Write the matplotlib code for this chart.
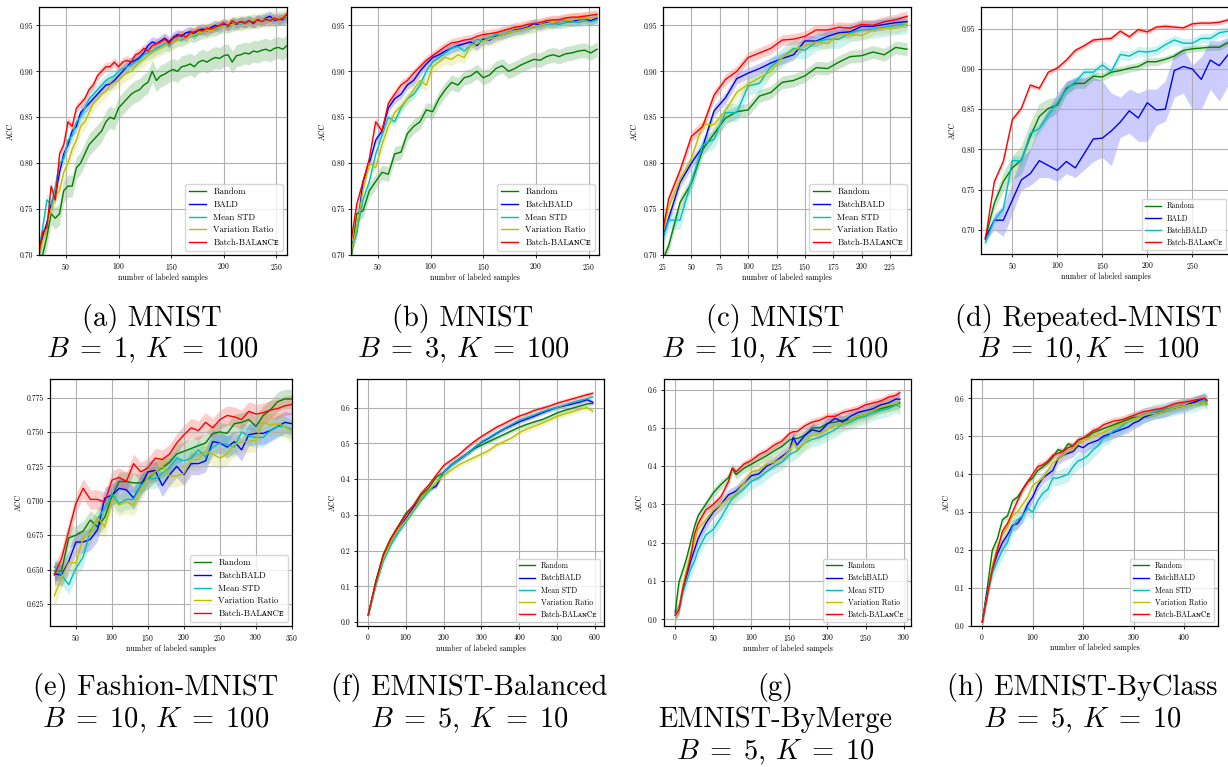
import numpy as np
import matplotlib
matplotlib.use('Agg')
import matplotlib.pyplot as plt
from matplotlib.ticker import FormatStrFormatter

plt.rcParams['font.family'] = ['cmr10', 'DejaVu Serif', 'DejaVu Sans']
plt.rcParams['mathtext.fontset'] = 'cm'
plt.rcParams['axes.formatter.use_mathtext'] = True
plt.rcParams['axes.unicode_minus'] = False

BALANCE = 'Batch-BAL\u1d00\u0274C\u1d07'

##################   Data  #########################

# (a) MNIST B=1
a_x = np.arange(24, 261, 4)
a_random = [0.690, 0.700, 0.720, 0.745, 0.740, 0.745, 0.770, 0.775, 0.775, 0.795,
            0.800, 0.810, 0.820, 0.825, 0.830, 0.835, 0.845, 0.850, 0.848, 0.860,
            0.865, 0.870, 0.875, 0.878, 0.880, 0.885, 0.888, 0.900, 0.890, 0.895,
            0.897, 0.900, 0.902, 0.900, 0.905, 0.906, 0.908, 0.905, 0.910, 0.912,
            0.910, 0.913, 0.915, 0.914, 0.917, 0.918, 0.910, 0.917, 0.918, 0.920,
            0.919, 0.922, 0.921, 0.923, 0.924, 0.922, 0.925, 0.926, 0.924, 0.928]
a_bald = [0.700, 0.720, 0.735, 0.755, 0.765, 0.790, 0.810, 0.820, 0.835, 0.840,
          0.855, 0.860, 0.865, 0.870, 0.875, 0.880, 0.885, 0.886, 0.890, 0.895,
          0.900, 0.905, 0.910, 0.912, 0.915, 0.920, 0.928, 0.932, 0.930, 0.933,
          0.936, 0.932, 0.937, 0.940, 0.938, 0.942, 0.943, 0.941, 0.945, 0.946,
          0.944, 0.948, 0.950, 0.948, 0.951, 0.950, 0.952, 0.951, 0.954, 0.953,
          0.955, 0.952, 0.956, 0.955, 0.958, 0.960, 0.955, 0.957, 0.956, 0.960]
a_meanstd = [0.700, 0.730, 0.760, 0.755, 0.775, 0.800, 0.805, 0.825, 0.830, 0.845,
             0.850, 0.860, 0.870, 0.875, 0.880, 0.885, 0.890, 0.893, 0.895, 0.900,
             0.903, 0.905, 0.907, 0.910, 0.913, 0.918, 0.920, 0.922, 0.925, 0.927,
             0.930, 0.928, 0.932, 0.935, 0.934, 0.937, 0.940, 0.938, 0.941, 0.943,
             0.944, 0.946, 0.945, 0.948, 0.950, 0.948, 0.951, 0.953, 0.951, 0.954,
             0.953, 0.955, 0.954, 0.956, 0.955, 0.957, 0.956, 0.958, 0.957, 0.959]
a_varratio = [0.700, 0.715, 0.730, 0.750, 0.765, 0.770, 0.790, 0.800, 0.815, 0.825,
              0.840, 0.845, 0.855, 0.865, 0.870, 0.875, 0.878, 0.885, 0.888, 0.890,
              0.895, 0.898, 0.900, 0.905, 0.910, 0.913, 0.917, 0.920, 0.923, 0.925,
              0.927, 0.930, 0.932, 0.934, 0.936, 0.937, 0.939, 0.940, 0.942, 0.943,
              0.945, 0.944, 0.947, 0.948, 0.949, 0.950, 0.951, 0.952, 0.953, 0.952,
              0.954, 0.955, 0.954, 0.956, 0.957, 0.956, 0.958, 0.957, 0.959, 0.960]
a_balance = [0.700, 0.725, 0.730, 0.775, 0.760, 0.810, 0.820, 0.845, 0.840, 0.860,
             0.865, 0.870, 0.880, 0.885, 0.895, 0.900, 0.905, 0.905, 0.910, 0.905,
             0.910, 0.912, 0.910, 0.918, 0.920, 0.925, 0.922, 0.928, 0.930, 0.932,
             0.935, 0.930, 0.936, 0.938, 0.940, 0.937, 0.942, 0.943, 0.945, 0.944,
             0.947, 0.946, 0.948, 0.950, 0.953, 0.949, 0.955, 0.952, 0.954, 0.952,
             0.955, 0.953, 0.956, 0.954, 0.957, 0.955, 0.958, 0.956, 0.958, 0.962]
a_spread = [0.012, 0.006, 0.007, 0.008, 0.005]

# (b) MNIST B=3
b_x = np.arange(24, 259, 6)
b_random = [0.690, 0.745, 0.748, 0.770, 0.780, 0.790, 0.788, 0.810, 0.812, 0.832,
            0.840, 0.845, 0.858, 0.856, 0.870, 0.880, 0.888, 0.885, 0.893, 0.895,
            0.900, 0.893, 0.896, 0.903, 0.906, 0.900, 0.903, 0.907, 0.910, 0.913,
            0.912, 0.916, 0.918, 0.916, 0.919, 0.920, 0.922, 0.923, 0.920, 0.924]
b_batchbald = [0.705, 0.725, 0.780, 0.800, 0.825, 0.835, 0.860, 0.870, 0.875, 0.885,
               0.890, 0.900, 0.908, 0.915, 0.918, 0.922, 0.925, 0.928, 0.930, 0.932,
               0.928, 0.935, 0.934, 0.938, 0.940, 0.942, 0.945, 0.946, 0.948, 0.952,
               0.950, 0.953, 0.952, 0.954, 0.955, 0.954, 0.956, 0.957, 0.955, 0.958]
b_meanstd = [0.700, 0.725, 0.760, 0.780, 0.810, 0.830, 0.850, 0.845, 0.860, 0.870,
             0.875, 0.885, 0.900, 0.910, 0.915, 0.920, 0.925, 0.927, 0.922, 0.928,
             0.935, 0.933, 0.937, 0.940, 0.940, 0.943, 0.944, 0.945, 0.947, 0.948,
             0.950, 0.951, 0.952, 0.951, 0.953, 0.954, 0.953, 0.955, 0.954, 0.956]
b_varratio = [0.700, 0.730, 0.770, 0.800, 0.795, 0.820, 0.840, 0.855, 0.862, 0.870,
              0.880, 0.890, 0.885, 0.905, 0.910, 0.915, 0.913, 0.918, 0.915, 0.928,
              0.930, 0.933, 0.935, 0.937, 0.940, 0.942, 0.944, 0.945, 0.947, 0.949,
              0.950, 0.952, 0.953, 0.954, 0.955, 0.956, 0.957, 0.957, 0.958, 0.959]
b_balance = [0.710, 0.755, 0.780, 0.805, 0.845, 0.835, 0.865, 0.875, 0.885, 0.890,
             0.898, 0.905, 0.912, 0.917, 0.922, 0.927, 0.931, 0.932, 0.934, 0.935,
             0.938, 0.940, 0.941, 0.942, 0.944, 0.946, 0.948, 0.949, 0.951, 0.952,
             0.953, 0.955, 0.956, 0.956, 0.958, 0.959, 0.959, 0.960, 0.961, 0.962]
b_spread = [0.008, 0.005, 0.005, 0.007, 0.005]

# (c) MNIST B=10
c_x = np.arange(20, 241, 10)
c_random = [0.680, 0.710, 0.757, 0.778, 0.815, 0.832, 0.849, 0.856, 0.858, 0.873, 0.877, 0.888,
            0.890, 0.895, 0.904, 0.903, 0.910, 0.916, 0.917, 0.921, 0.918, 0.926, 0.924]
c_batchbald = [0.700, 0.740, 0.779, 0.800, 0.818, 0.857, 0.871, 0.892, 0.898, 0.903, 0.909, 0.914,
               0.918, 0.933, 0.933, 0.938, 0.942, 0.943, 0.949, 0.949, 0.951, 0.953, 0.954]
c_meanstd = [0.700, 0.738, 0.738, 0.780, 0.820, 0.826, 0.855, 0.855, 0.884, 0.887, 0.905, 0.915,
             0.925, 0.923, 0.932, 0.935, 0.935, 0.942, 0.945, 0.946, 0.948, 0.950, 0.951]
c_varratio = [0.700, 0.752, 0.782, 0.805, 0.842, 0.842, 0.857, 0.877, 0.886, 0.893, 0.900, 0.915,
              0.923, 0.928, 0.932, 0.930, 0.940, 0.940, 0.939, 0.945, 0.947, 0.947, 0.951]
c_balance = [0.695, 0.761, 0.792, 0.829, 0.840, 0.874, 0.891, 0.900, 0.915, 0.920, 0.925, 0.934,
             0.935, 0.938, 0.945, 0.945, 0.948, 0.947, 0.951, 0.950, 0.954, 0.956, 0.960]
c_spread = [0.007, 0.006, 0.010, 0.006, 0.006]

# (d) Repeated-MNIST B=10
d_x = np.arange(20, 291, 10)
d_random = [0.690, 0.733, 0.760, 0.777, 0.787, 0.816, 0.841, 0.851, 0.855, 0.876, 0.882, 0.882, 0.891, 0.890,
            0.896, 0.898, 0.901, 0.903, 0.909, 0.909, 0.912, 0.916, 0.923, 0.925, 0.926, 0.927, 0.927, 0.933]
d_random_std = [0.003, 0.008, 0.012, 0.015, 0.018, 0.018, 0.016, 0.012, 0.010, 0.008, 0.006, 0.006, 0.005, 0.005,
                0.005, 0.005, 0.005, 0.005, 0.005, 0.005, 0.004, 0.004, 0.004, 0.004, 0.004, 0.004, 0.004, 0.004]
d_bald = [0.690, 0.712, 0.712, 0.737, 0.762, 0.770, 0.786, 0.780, 0.774, 0.785, 0.777, 0.795, 0.813, 0.814,
          0.823, 0.834, 0.848, 0.839, 0.858, 0.849, 0.850, 0.898, 0.903, 0.900, 0.887, 0.911, 0.904, 0.918]
d_bald_lo = [0.686, 0.700, 0.692, 0.720, 0.750, 0.755, 0.765, 0.765, 0.760, 0.770, 0.765, 0.775, 0.785, 0.790,
             0.780, 0.815, 0.820, 0.810, 0.810, 0.830, 0.835, 0.865, 0.870, 0.850, 0.850, 0.875, 0.860, 0.880]
d_bald_hi = [0.692, 0.720, 0.730, 0.760, 0.790, 0.800, 0.830, 0.850, 0.870, 0.885, 0.890, 0.890, 0.890, 0.885,
             0.870, 0.865, 0.875, 0.870, 0.875, 0.875, 0.885, 0.920, 0.925, 0.905, 0.915, 0.935, 0.935, 0.940]
d_batchbald = [0.684, 0.712, 0.726, 0.786, 0.786, 0.820, 0.826, 0.843, 0.858, 0.874, 0.884, 0.896, 0.896, 0.905,
               0.897, 0.918, 0.916, 0.922, 0.921, 0.923, 0.930, 0.936, 0.932, 0.932, 0.938, 0.938, 0.945, 0.947]
d_balance = [0.688, 0.760, 0.785, 0.837, 0.851, 0.880, 0.876, 0.896, 0.901, 0.911, 0.923, 0.929, 0.936, 0.937,
             0.938, 0.947, 0.940, 0.949, 0.946, 0.952, 0.953, 0.952, 0.951, 0.956, 0.957, 0.957, 0.958, 0.961]

# (e) Fashion-MNIST B=10
e_x = np.arange(20, 351, 10)
e_random = [0.649, 0.649, 0.673, 0.675, 0.678, 0.686, 0.681, 0.688, 0.703, 0.714, 0.714, 0.713,
            0.713, 0.716, 0.721, 0.724, 0.728, 0.734, 0.736, 0.738, 0.740, 0.742, 0.749, 0.750,
            0.749, 0.756, 0.757, 0.759, 0.754, 0.762, 0.766, 0.772, 0.774, 0.774]
e_batchbald = [0.647, 0.646, 0.656, 0.670, 0.670, 0.672, 0.679, 0.702, 0.704, 0.709, 0.708, 0.702,
               0.711, 0.721, 0.722, 0.711, 0.719, 0.725, 0.719, 0.727, 0.727, 0.729, 0.743, 0.742,
               0.739, 0.743, 0.737, 0.748, 0.749, 0.749, 0.751, 0.754, 0.757, 0.756]
e_meanstd = [0.652, 0.646, 0.639, 0.651, 0.659, 0.678, 0.687, 0.695, 0.705, 0.698, 0.701, 0.701,
             0.711, 0.716, 0.716, 0.720, 0.724, 0.731, 0.729, 0.731, 0.737, 0.732, 0.739, 0.742,
             0.741, 0.739, 0.750, 0.747, 0.746, 0.746, 0.751, 0.754, 0.754, 0.752]
e_varratio = [0.631, 0.644, 0.655, 0.655, 0.673, 0.676, 0.688, 0.681, 0.701, 0.697, 0.699, 0.697,
              0.707, 0.717, 0.721, 0.725, 0.718, 0.718, 0.720, 0.730, 0.730, 0.736, 0.734, 0.731,
              0.734, 0.741, 0.743, 0.743, 0.744, 0.757, 0.755, 0.756, 0.754, 0.750]
e_balance = [0.646, 0.658, 0.678, 0.698, 0.709, 0.701, 0.701, 0.699, 0.715, 0.717, 0.714, 0.727,
             0.721, 0.724, 0.731, 0.730, 0.734, 0.742, 0.748, 0.753, 0.751, 0.757, 0.753, 0.759,
             0.762, 0.761, 0.759, 0.765, 0.763, 0.764, 0.766, 0.767, 0.769, 0.770]
e_spread = [0.007, 0.008, 0.007, 0.008, 0.007]

# (f) EMNIST-Balanced B=5
f_x = np.append(np.arange(0, 600, 20), 595)
f_random = [0.020, 0.115, 0.190, 0.235, 0.270, 0.305, 0.325, 0.355, 0.375, 0.405, 0.420,
            0.440, 0.455, 0.470, 0.485, 0.495, 0.505, 0.515, 0.525, 0.535, 0.545,
            0.553, 0.560, 0.566, 0.575, 0.585, 0.592, 0.598, 0.604, 0.610, 0.612]
f_batchbald = [0.020, 0.110, 0.185, 0.225, 0.260, 0.290, 0.320, 0.345, 0.370, 0.380, 0.420,
               0.440, 0.455, 0.470, 0.487, 0.503, 0.515, 0.528, 0.540, 0.550, 0.560,
               0.568, 0.576, 0.585, 0.593, 0.600, 0.605, 0.610, 0.615, 0.622, 0.615]
f_meanstd = [0.020, 0.100, 0.170, 0.215, 0.250, 0.280, 0.310, 0.340, 0.365, 0.390, 0.420,
             0.440, 0.456, 0.470, 0.487, 0.505, 0.517, 0.530, 0.542, 0.553, 0.565,
             0.572, 0.580, 0.588, 0.595, 0.600, 0.607, 0.614, 0.620, 0.625, 0.630]
f_varratio = [0.020, 0.105, 0.180, 0.225, 0.260, 0.285, 0.315, 0.345, 0.370, 0.390, 0.410,
              0.425, 0.440, 0.450, 0.460, 0.470, 0.480, 0.495, 0.505, 0.515, 0.530,
              0.540, 0.548, 0.556, 0.565, 0.575, 0.582, 0.588, 0.595, 0.600, 0.590]
f_balance = [0.020, 0.110, 0.187, 0.234, 0.268, 0.300, 0.327, 0.360, 0.383, 0.411, 0.438,
             0.453, 0.468, 0.487, 0.504, 0.519, 0.532, 0.545, 0.555, 0.566, 0.576,
             0.583, 0.592, 0.598, 0.604, 0.612, 0.618, 0.624, 0.630, 0.636, 0.640]
f_spread = [0.006, 0.006, 0.006, 0.008, 0.007]

# (g) EMNIST-ByMerge B=5
g_x = [0, 5, 10, 15, 20, 25, 30, 40, 50, 60, 70, 75, 80, 90, 100, 110, 120, 130,
       140, 150, 155, 160, 170, 180, 190, 200, 210, 220, 230, 240, 250, 260, 270, 280, 290, 295]
g_random = [0.020, 0.098, 0.128, 0.160, 0.200, 0.240, 0.270, 0.300, 0.330, 0.352, 0.370, 0.394,
            0.378, 0.394, 0.405, 0.416, 0.427, 0.440, 0.451, 0.468, 0.472, 0.472, 0.480, 0.500,
            0.500, 0.512, 0.515, 0.520, 0.520, 0.530, 0.535, 0.545, 0.550, 0.555, 0.560, 0.565]
g_batchbald = [0.015, 0.030, 0.080, 0.115, 0.150, 0.180, 0.210, 0.250, 0.280, 0.300, 0.325, 0.330,
               0.335, 0.355, 0.375, 0.380, 0.400, 0.410, 0.425, 0.440, 0.475, 0.455, 0.480, 0.495,
               0.490, 0.510, 0.525, 0.515, 0.530, 0.540, 0.545, 0.550, 0.560, 0.565, 0.575, 0.575]
g_meanstd = [0.010, 0.030, 0.070, 0.100, 0.130, 0.150, 0.180, 0.220, 0.235, 0.265, 0.300, 0.315,
             0.325, 0.340, 0.360, 0.370, 0.385, 0.400, 0.410, 0.430, 0.435, 0.440, 0.460, 0.470,
             0.475, 0.485, 0.495, 0.510, 0.515, 0.525, 0.530, 0.540, 0.545, 0.550, 0.560, 0.555]
g_varratio = [0.010, 0.030, 0.090, 0.130, 0.170, 0.200, 0.235, 0.260, 0.285, 0.300, 0.315, 0.320,
              0.330, 0.355, 0.385, 0.390, 0.405, 0.410, 0.420, 0.440, 0.460, 0.445, 0.460, 0.480,
              0.485, 0.495, 0.505, 0.510, 0.520, 0.530, 0.535, 0.545, 0.555, 0.560, 0.565, 0.560]
g_balance = [0.010, 0.025, 0.080, 0.120, 0.160, 0.220, 0.250, 0.285, 0.300, 0.320, 0.360, 0.395,
             0.385, 0.405, 0.415, 0.430, 0.440, 0.455, 0.465, 0.485, 0.490, 0.490, 0.505, 0.515,
             0.520, 0.530, 0.530, 0.540, 0.545, 0.550, 0.560, 0.565, 0.570, 0.580, 0.585, 0.592]
g_spread = [0.012, 0.015, 0.020, 0.018, 0.010]

# (h) EMNIST-ByClass B=5
h_x = np.append(np.arange(0, 441, 10), 445)
h_random = [0.010, 0.100, 0.200, 0.230, 0.280, 0.290, 0.330, 0.340, 0.360, 0.380, 0.390, 0.410,
            0.420, 0.430, 0.445, 0.465, 0.460, 0.480, 0.475, 0.490, 0.495, 0.500, 0.510, 0.515,
            0.520, 0.525, 0.530, 0.535, 0.540, 0.545, 0.550, 0.550, 0.555, 0.555, 0.560, 0.565,
            0.570, 0.572, 0.575, 0.578, 0.580, 0.585, 0.590, 0.588, 0.590, 0.585]
h_batchbald = [0.010, 0.090, 0.150, 0.190, 0.220, 0.240, 0.265, 0.270, 0.290, 0.320, 0.340, 0.370,
               0.390, 0.400, 0.410, 0.440, 0.450, 0.455, 0.460, 0.475, 0.470, 0.480, 0.485, 0.490,
               0.500, 0.505, 0.510, 0.515, 0.520, 0.525, 0.535, 0.540, 0.550, 0.555, 0.560, 0.562,
               0.565, 0.570, 0.575, 0.578, 0.580, 0.585, 0.590, 0.595, 0.600, 0.595]
h_meanstd = [0.010, 0.080, 0.140, 0.170, 0.200, 0.220, 0.260, 0.280, 0.290, 0.310, 0.300, 0.330,
             0.350, 0.360, 0.390, 0.390, 0.395, 0.400, 0.420, 0.435, 0.440, 0.450, 0.465, 0.475,
             0.495, 0.500, 0.515, 0.520, 0.530, 0.540, 0.545, 0.550, 0.555, 0.560, 0.565, 0.567,
             0.570, 0.572, 0.575, 0.578, 0.580, 0.583, 0.585, 0.590, 0.595, 0.590]
h_varratio = [0.010, 0.080, 0.160, 0.210, 0.240, 0.260, 0.290, 0.300, 0.320, 0.340, 0.370, 0.380,
              0.390, 0.410, 0.430, 0.440, 0.450, 0.460, 0.465, 0.480, 0.490, 0.495, 0.500, 0.505,
              0.510, 0.518, 0.525, 0.530, 0.535, 0.540, 0.545, 0.550, 0.555, 0.558, 0.560, 0.562,
              0.565, 0.570, 0.575, 0.578, 0.580, 0.582, 0.585, 0.588, 0.590, 0.585]
h_balance = [0.010, 0.080, 0.150, 0.200, 0.250, 0.270, 0.300, 0.330, 0.360, 0.380, 0.400, 0.420,
             0.425, 0.435, 0.450, 0.455, 0.460, 0.470, 0.475, 0.490, 0.495, 0.505, 0.515, 0.520,
             0.530, 0.535, 0.540, 0.542, 0.545, 0.550, 0.555, 0.560, 0.565, 0.567, 0.570, 0.572,
             0.575, 0.580, 0.585, 0.588, 0.590, 0.592, 0.595, 0.598, 0.600, 0.595]
h_spread = [0.008, 0.015, 0.020, 0.010, 0.010]

five_labels = ['Random', 'BatchBALD', 'Mean STD', 'Variation Ratio', BALANCE]
five_colors = ['g', 'b', 'c', 'y', 'r']

###############   Plot   ########################

W, H = 1228, 767
fig = plt.figure(figsize=(W / 100, H / 100), dpi=100)


def box(l, t, r, b):
    return [l / W, 1 - b / H, (r - l) / W, (b - t) / H]


def panel(rect, x, ys, labels, colors, spreads, xlim, ylim, xticks, yticks, yfmt, legsize):
    ax = fig.add_axes(box(*rect))
    for y, lab, col, sp in zip(ys, labels, colors, spreads):
        y = np.asarray(y)
        if isinstance(sp, tuple):
            lo, hi = np.asarray(sp[0]), np.asarray(sp[1])
        else:
            lo, hi = y - np.asarray(sp), y + np.asarray(sp)
        ax.fill_between(x, lo, hi, color=col, alpha=0.2, lw=0)
        ax.plot(x, y, color=col, lw=1.0, label=lab)
    ax.set_xlim(*xlim)
    ax.set_ylim(*ylim)
    ax.set_xticks(xticks)
    ax.set_yticks(yticks)
    ax.yaxis.set_major_formatter(FormatStrFormatter(yfmt))
    ax.grid(True, color='#b0b0b0', lw=0.8)
    ax.tick_params(labelsize=5.5, length=2.5, width=0.6, pad=2)
    for s in ax.spines.values():
        s.set_linewidth(0.9)
    ax.set_xlabel('number of labeled samples', fontsize=5.6, labelpad=1)
    ax.set_ylabel('ACC', fontsize=5.6, labelpad=3)
    ax.legend(loc='lower right', fontsize=legsize, framealpha=0.8)
    return ax


top_y = [0.70, 0.75, 0.80, 0.85, 0.90, 0.95]

panel((39, 7, 287, 255), a_x, [a_random, a_bald, a_meanstd, a_varratio, a_balance],
      ['Random', 'BALD', 'Mean STD', 'Variation Ratio', BALANCE], five_colors, a_spread,
      (24.5, 260), (0.70, 0.970), [50, 100, 150, 200, 250], top_y, '%.2f', 6.3)

panel((351, 7, 599, 255), b_x, [b_random, b_batchbald, b_meanstd, b_varratio, b_balance],
      five_labels, five_colors, b_spread,
      (24.6, 259.8), (0.70, 0.970), [50, 100, 150, 200, 250], top_y, '%.2f', 6.3)

panel((663, 7, 911, 255), c_x, [c_random, c_batchbald, c_meanstd, c_varratio, c_balance],
      five_labels, five_colors, c_spread,
      (25, 243.5), (0.70, 0.970), [25, 50, 75, 100, 125, 150, 175, 200, 225], top_y, '%.2f', 6.3)

panel((981, 7, 1230, 254), d_x, [d_random, d_bald, d_batchbald, d_balance],
      ['Random', 'BALD', 'BatchBALD', BALANCE], ['g', 'b', 'c', 'r'],
      [d_random_std, (d_bald_lo, d_bald_hi), 0.006, 0.003],
      (15.2, 291.9), (0.670, 0.977), [50, 100, 150, 200, 250], top_y, '%.2f', 5.5)

panel((50, 379, 292, 626), e_x, [e_random, e_batchbald, e_meanstd, e_varratio, e_balance],
      five_labels, five_colors, e_spread,
      (14, 350), (0.609, 0.7885), [50, 100, 150, 200, 250, 300, 350],
      [0.625, 0.650, 0.675, 0.700, 0.725, 0.750, 0.775], '%.3f', 6.3)

panel((357, 379, 604, 626), f_x, [f_random, f_batchbald, f_meanstd, f_varratio, f_balance],
      five_labels, five_colors, f_spread,
      (-29.75, 624.75), (-0.011, 0.680), [0, 100, 200, 300, 400, 500, 600],
      [0.0, 0.1, 0.2, 0.3, 0.4, 0.5, 0.6], '%.1f', 5.5)

ax_g = panel((664, 379, 911, 626), g_x, [g_random, g_batchbald, g_meanstd, g_varratio, g_balance],
             five_labels, five_colors, g_spread,
             (-14.75, 309.75), (-0.0174, 0.6275), [0, 50, 100, 150, 200, 250, 300],
             [0.0, 0.1, 0.2, 0.3, 0.4, 0.5, 0.6], '%.1f', 5.5)
ax_g.set_xlabel('number of labeled sampels', fontsize=5.6, labelpad=1)

panel((971, 379, 1218, 626), h_x, [h_random, h_batchbald, h_meanstd, h_varratio, h_balance],
      five_labels, five_colors, h_spread,
      (-22.25, 467.25), (0.0, 0.651), [0, 100, 200, 300, 400],
      [0.0, 0.1, 0.2, 0.3, 0.4, 0.5, 0.6], '%.1f', 5.5)

# captions
captions = [
    (152, [(318, '(a) MNIST'), (350, r'$B\;=\;1$, $K\;=\;100$')]),
    (463, [(318, '(b) MNIST'), (350, r'$B\;=\;3$, $K\;=\;100$')]),
    (775, [(318, '(c) MNIST'), (350, r'$B\;=\;10$, $K\;=\;100$')]),
    (1088, [(318, '(d) Repeated-MNIST'), (350, r'$B\;=\;10, K\;=\;100$')]),
    (156, [(688, '(e) Fashion-MNIST'), (720, r'$B\;=\;10$, $K\;=\;100$')]),
    (469, [(688, '(f) EMNIST-Balanced'), (720, r'$B\;=\;5$, $K\;=\;10$')]),
    (775, [(688, '(g)'), (720, 'EMNIST-ByMerge'), (752, r'$B\;=\;5$, $K\;=\;10$')]),
    (1082, [(688, '(h) EMNIST-ByClass'), (720, r'$B\;=\;5$, $K\;=\;10$')]),
]
for cx, lines in captions:
    for cy, txt in lines:
        fig.text(cx / W, 1 - cy / H, txt, fontsize=20.5, ha='center', va='center')

plt.savefig('out.png', dpi=100)
